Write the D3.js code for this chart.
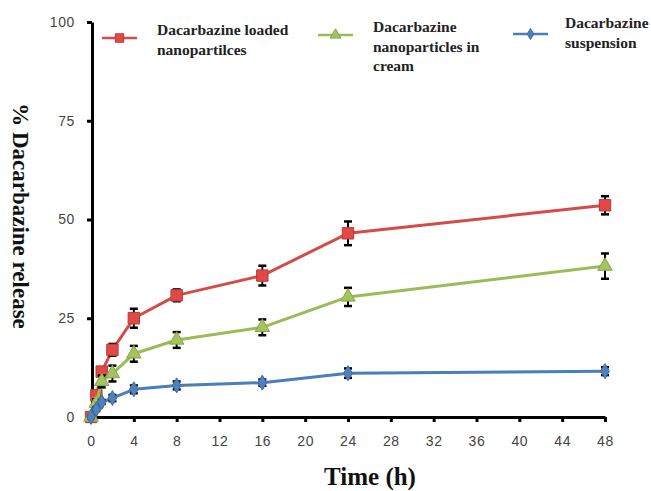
<!DOCTYPE html>
<html>
<head>
<meta charset="utf-8">
<script src="https://cdn.jsdelivr.net/npm/d3@7"></script>
<style>
  html, body { margin: 0; padding: 0; background: #fff; }
  svg { display: block; }
</style>
</head>
<body>
<svg id="chart" width="651" height="491"></svg>
<script>
// sampling times (h)
const hours = [0, 0.5, 1, 2, 4, 8, 16, 24, 48];

const loadedNano = [0, 5.5, 11.5, 17, 25, 30.8, 35.8, 46.5, 53.6];
const loadedNanoErr = [0.5, 1, 1, 1.5, 2.4, 1.5, 2.5, 3, 2.3];

const nanoCream = [0, 3.5, 9, 11, 16, 19.5, 22.7, 30.4, 38.2];
const nanoCreamErr = [0.3, 1, 1.5, 2, 2, 2, 2, 2.3, 3.2];

const suspension = [0, 2, 3.8, 4.8, 7, 8, 8.7, 11.1, 11.6];
const suspensionErr = [0.3, 0.5, 0.5, 0.8, 1, 1, 0.8, 1.2, 1];

const xTicks = [0, 4, 8, 12, 16, 20, 24, 28, 32, 36, 40, 44, 48];
const yTicks = [0, 25, 50, 75, 100];

const seriesNames = [
  ['Dacarbazine loaded', 'nanopartilces'],
  ['Dacarbazine', 'nanoparticles in', 'cream'],
  ['Dacarbazine', 'suspension']
];

const series = [
  {name: seriesNames[0], values: loadedNano, err: loadedNanoErr, line: '#d44c48', fill: '#e04a46', edge: '#b83a37', symbol: d3.symbolSquare, size: 130},
  {name: seriesNames[1], values: nanoCream, err: nanoCreamErr, line: '#9bbb59', fill: '#a5c45e', edge: '#86a44a', symbol: d3.symbolTriangle, size: 90},
  {name: seriesNames[2], values: suspension, err: suspensionErr, line: '#4a7ebb', fill: '#4f81bd', edge: '#3c6aa0', symbol: d3.symbolDiamond, size: 65}
];

const svg = d3.select('#chart');

const x = d3.scaleLinear().domain([0, 48]).range([91, 605]);
const y = d3.scaleLinear().domain([0, 100]).range([417, 22]);

// axes
const xAxis = svg.append('g')
  .attr('transform', `translate(0,${y(0)})`)
  .call(d3.axisBottom(x).tickValues(xTicks).tickSize(5).tickPadding(14).tickSizeOuter(0));

const yAxis = svg.append('g')
  .attr('transform', `translate(${x(0) + 1},0)`)
  .call(d3.axisLeft(y).tickValues(yTicks).tickSize(5).tickPadding(12).tickSizeOuter(0));

[xAxis, yAxis].forEach(ax => {
  ax.select('.domain').attr('stroke', '#000').attr('stroke-width', 3);
  ax.selectAll('.tick line').attr('stroke', '#000').attr('stroke-width', 3);
  ax.selectAll('.tick text')
    .attr('fill', '#444')
    .style('font-family', '"Liberation Sans", Arial, sans-serif')
    .style('font-size', '14px')
    .style('letter-spacing', '0.6px');
});

// series
const line = d3.line().x((d, i) => x(hours[i])).y(d => y(d));

series.forEach(s => {
  const g = svg.append('g');

  g.append('path')
    .datum(s.values)
    .attr('fill', 'none')
    .attr('stroke', s.line)
    .attr('stroke-width', 3)
    .attr('stroke-linejoin', 'round')
    .attr('d', line);

  const bars = g.selectAll('.err')
    .data(s.values)
    .enter()
    .append('g')
    .attr('class', 'err');

  bars.append('line')
    .attr('x1', (d, i) => x(hours[i]))
    .attr('x2', (d, i) => x(hours[i]))
    .attr('y1', (d, i) => y(d + s.err[i]))
    .attr('y2', (d, i) => y(d - s.err[i]))
    .attr('stroke', '#000')
    .attr('stroke-width', 2);

  ['+', '-'].forEach(sign => {
    bars.append('line')
      .attr('x1', (d, i) => x(hours[i]) - 4)
      .attr('x2', (d, i) => x(hours[i]) + 4)
      .attr('y1', (d, i) => y(sign === '+' ? d + s.err[i] : d - s.err[i]))
      .attr('y2', (d, i) => y(sign === '+' ? d + s.err[i] : d - s.err[i]))
      .attr('stroke', '#000')
      .attr('stroke-width', 2.5);
  });

  g.selectAll('.mark')
    .data(s.values)
    .enter()
    .append('path')
    .attr('class', 'mark')
    .attr('transform', (d, i) => `translate(${x(hours[i])},${y(d)})`)
    .attr('d', d3.symbol().type(s.symbol).size(s.size))
    .attr('fill', s.fill)
    .attr('stroke', s.edge)
    .attr('stroke-width', 1);
});

// legend
const legendPos = [
  {lx: 102, ly: 38, tx: 157, ty: 35},
  {lx: 318, ly: 35, tx: 373, ty: 32},
  {lx: 513, ly: 34, tx: 565, ty: 28}
];

series.forEach((s, k) => {
  const p = legendPos[k];
  const lg = svg.append('g');
  lg.append('line')
    .attr('x1', p.lx).attr('x2', p.lx + 35)
    .attr('y1', p.ly).attr('y2', p.ly)
    .attr('stroke', s.line).attr('stroke-width', 2.5);
  lg.append('path')
    .attr('transform', `translate(${p.lx + 17.5},${p.ly})`)
    .attr('d', d3.symbol().type(s.symbol).size(s.size * 0.55))
    .attr('fill', s.fill)
    .attr('stroke', s.edge);
  lg.selectAll('text')
    .data(s.name)
    .enter()
    .append('text')
    .attr('x', p.tx)
    .attr('y', (d, i) => p.ty + i * 19.5)
    .attr('fill', '#222')
    .style('font-family', '"Liberation Serif", "Times New Roman", serif')
    .style('font-weight', 'bold')
    .style('font-size', '15.5px')
    .text(d => d);
});

// axis titles
svg.append('text')
  .attr('transform', 'translate(13,216) rotate(90)')
  .attr('text-anchor', 'middle')
  .attr('fill', '#111')
  .style('font-family', '"Liberation Serif", "Times New Roman", serif')
  .style('font-weight', 'bold')
  .style('font-size', '23px')
  .text('% Dacarbazine release');

svg.append('text')
  .attr('x', 370)
  .attr('y', 485)
  .attr('text-anchor', 'middle')
  .attr('fill', '#111')
  .style('font-family', '"Liberation Serif", "Times New Roman", serif')
  .style('font-weight', 'bold')
  .style('font-size', '25px')
  .text('Time (h)');
</script>
</body>
</html>
